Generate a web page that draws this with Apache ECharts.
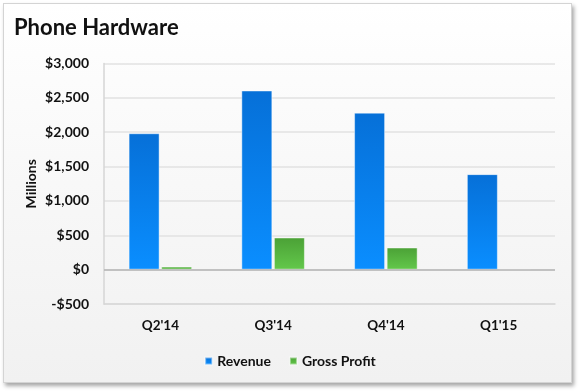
<!DOCTYPE html>
<html>
<head>
<meta charset="utf-8">
<script src="https://cdn.jsdelivr.net/npm/echarts@6/dist/echarts.min.js"></script>
<style>
html,body{margin:0;padding:0;background:#fff;width:580px;height:391px;overflow:hidden;}
#card{position:absolute;left:3px;top:3px;width:567px;height:378px;border:1px solid #d4d4d4;
background:linear-gradient(to bottom,#ffffff 0%,#f9f9f9 40%,#f1f1f1 100%);
box-shadow:2px 3px 4px rgba(0,0,0,0.35);}
#chart{position:absolute;left:0;top:0;width:580px;height:391px;}
</style>
</head>
<body>
<div id="card"></div>
<div id="chart"></div>
<script>
const categories = ["Q2'14", "Q3'14", "Q4'14", "Q1'15"];
const revenue = [1985, 2607, 2285, 1390];
const grossProfit = [45, 468, 322, 0];
const yMin = -500, yMax = 3000, yStep = 500;

const FONT = 'Lato';
const chart = echarts.init(document.getElementById('chart'), null, {renderer: 'canvas'});
chart.setOption({
  backgroundColor: 'transparent',
  animation: false,
  title: {
    text: 'Phone Hardware', left: 9, top: 12,
    textStyle: {fontFamily: FONT, fontWeight: 'bold', fontSize: 22, color: '#111'}
  },
  legend: {
    data: ['Revenue', 'Gross Profit'],
    left: 'center', top: 349, icon: 'rect', itemWidth: 7, itemHeight: 7, itemGap: 18,
    textStyle: {fontFamily: FONT, fontWeight: 'bold', fontSize: 14, color: '#111'}
  },
  grid: {left: 104, right: 25, top: 63.5, bottom: 87, containLabel: false},
  xAxis: {
    type: 'category', data: categories,
    axisLine: {onZero: false, lineStyle: {color: '#d6d6d6', width: 1.5}},
    axisTick: {show: false},
    axisLabel: {margin: 15, fontFamily: FONT, fontWeight: 'bold', fontSize: 13.5, color: '#111'}
  },
  yAxis: {
    type: 'value', min: yMin, max: yMax, interval: yStep,
    name: 'Millions', nameLocation: 'middle', nameGap: 66, nameRotate: 90,
    nameMoveOverlap: false,
    nameTextStyle: {fontFamily: FONT, fontWeight: 'bold', fontSize: 14, color: '#111'},
    axisLine: {show: true, lineStyle: {color: '#d6d6d6', width: 1.5}},
    axisTick: {show: false},
    splitLine: {lineStyle: {color: '#e2e2e2', width: 1.5}},
    axisLabel: {
      margin: 15, fontFamily: FONT, fontWeight: 'bold', fontSize: 14, color: '#111',
      formatter: v => (v < 0 ? '-$' : '$') + Math.abs(v).toLocaleString('en-US')
    }
  },
  series: [
    {
      name: 'Revenue', type: 'bar', data: revenue, barWidth: 31, barGap: '5%',
      itemStyle: {
        color: new echarts.graphic.LinearGradient(0, 0, 0, 1, [
          {offset: 0, color: '#0670d8'}, {offset: 1, color: '#0a8eff'}]),
        borderColor: 'rgba(255,255,255,0.45)', borderWidth: 1
      },
      markLine: {
        silent: true, symbol: 'none', label: {show: false},
        lineStyle: {color: '#b4b4b4', width: 1.5, type: 'solid'},
        data: [{yAxis: 0}]
      }
    },
    {
      name: 'Gross Profit', type: 'bar', data: grossProfit, barWidth: 31,
      itemStyle: {
        color: new echarts.graphic.LinearGradient(0, 0, 0, 1, [
          {offset: 0, color: '#4ba136'}, {offset: 1, color: '#63c84b'}]),
        borderColor: 'rgba(255,255,255,0.45)', borderWidth: 1
      }
    }
  ]
});
</script>
</body>
</html>
